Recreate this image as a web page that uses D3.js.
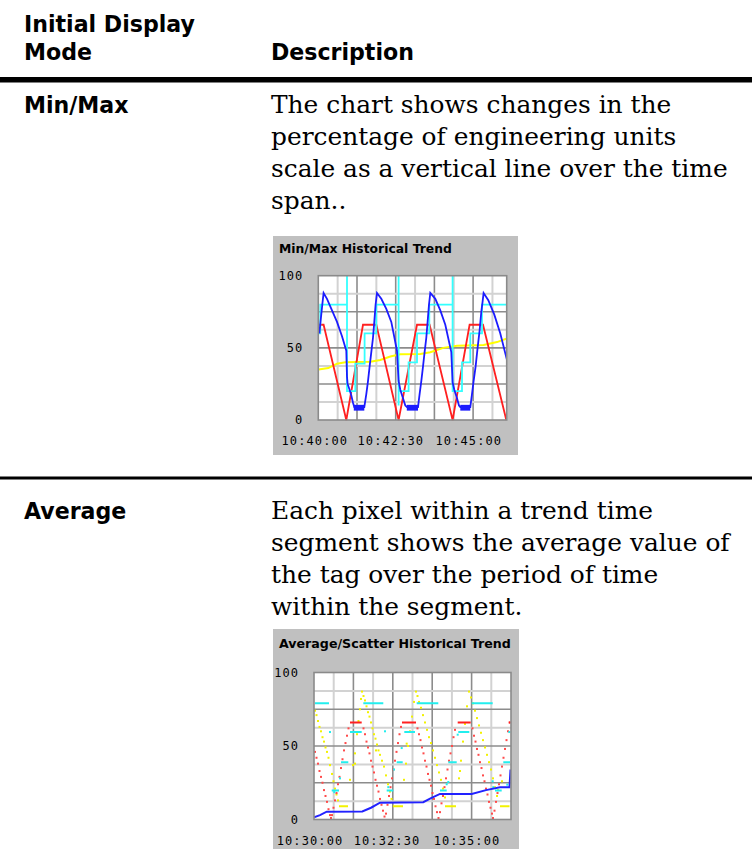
<!DOCTYPE html>
<html><head><meta charset="utf-8">
<script src="https://cdn.jsdelivr.net/npm/d3@7/dist/d3.min.js"></script>
<style>body{margin:0;background:#fff}svg{display:block}</style>
</head><body>
<svg id="page" width="752" height="867"></svg>
<script>
// ---------------- DATA ----------------
const headerLeft = ["Initial Display", "Mode"];
const headerRight = "Description";
const rowLabels = ["Min/Max", "Average"];
const rowText1 = ["The chart shows changes in the", "percentage of engineering units", "scale as a vertical line over the time", "span.."];
const rowText2 = ["Each pixel within a trend time", "segment shows the average value of", "the tag over the period of time", "within the segment."];

const chartTitles = ["Min/Max Historical Trend", "Average/Scatter Historical Trend"];
const yTickValues = [0, 50, 100];
const yTickLabels = ["0", "50", "100"];
// time labels (x = sample index in the trend)
const timeTicks1 = [-4, 72, 150];
const timeLabels1 = ["10:40:00", "10:42:30", "10:45:00"];
const timeTicks2 = [-4.5, 72.5, 152.5];
const timeLabels2 = ["10:30:00", "10:32:30", "10:35:00"];

// ---- Min/Max chart: [sample, value]
const mmBlue = [[1,60],[2.5,70],[4,80],[5.3,88],[8.7,84],[13.7,76],[18.7,68],[23.7,58],[28,48],[28.7,30],[29.3,25],[31.3,21],[33,17],[34.7,12],[36,9],[46,9],[48,18],[49.7,27],[51.3,37],[53,47],[54.7,57],[56,68],[57.3,80],[58.7,88],[63,84],[68,77],[73,68],[78.7,48],[80.3,27],[82,21],[84.7,15],[87,10],[88.7,9],[99.7,9],[101.3,18],[103,27],[104.7,37],[106.3,47],[108,57],[109.3,68],[110.7,80],[112,88],[117,84],[122,76],[127,66],[133,47],[134.3,26],[136,21],[138.7,15],[140.7,10],[142,9],[152,9],[153.7,18],[155.3,27],[157.3,37],[159.3,50],[161.3,62],[163,75],[164.3,82],[165.3,88],[170,83],[176,73],[182,60],[188.5,42]];
// [start, end, low, high] min/max bands of the blue tag
const mmBlueBands = [[35.5,46,6.5,10.5],[88.5,99.7,6.5,10.5],[142,152,6.5,10.5]];
const mmRed = [[0.3,66],[5.3,66],[28,0],[44.7,66],[58,66],[80.3,0],[98.7,66],[111.3,66],[134.3,0],[151.3,66],[164.7,66],[188,0]];
const mmCyan = [[0.3,60],[2,60],[2,80],[28.7,80],[28.7,100],[28.7,20],[37,20],[37,39],[46.3,39],[46.3,60],[58,60],[58,80],[80.3,80],[80.3,100],[80.3,10],[80.3,20],[90.3,20],[90.3,40],[98.7,40],[98.7,60],[111,60],[111,80],[134.3,80],[134.3,100],[134.3,20],[143.7,20],[143.7,40],[152,40],[152,60],[163.7,60],[163.7,80],[188.7,80]];
const mmYellow = [[0.3,35],[10,36],[18.7,39],[27,40],[52,40.4],[62,41.6],[72,44],[82,45.5],[102,45.7],[112,47],[125,50],[138.7,51.5],[165.3,52],[178.7,54],[188.7,56.6]];

// ---- Average/Scatter chart
const avBlue = [[0,1.5],[6,3],[12.7,5.3],[48.3,5.5],[57,8],[66,11.4],[109.3,11.8],[117,14.5],[126,17.4],[157.7,17.4],[172,20],[186,22],[195.5,22],[196.5,34]];
// [start, end, value]
const avCyanDashes = [[1,15,79],[49.3,69.3,79],[102.7,124.3,79],[157.7,178.7,79],[36,47.7,59.5],[90.3,101,59.5],[144.3,155.3,59.5],[27,34.3,39],[82.7,88.7,39],[134.3,142.7,39],[189.3,196,39],[17.7,25,19.8],[72.7,79.3,19.8],[126,132.7,19.8],[181,187.7,19.8]];
const avCyanDots = [[16,59.5],[26,28],[20.3,18.6],[71,60],[74.3,22],[80,34],[87.7,48.6],[143.7,57.7],[134.3,25.5],[132.7,24],[179.3,22],[178.7,26],[193.3,23.7],[195.3,59.5]];
const avRedDashes = [[36,47.7,66],[88,102,66],[143.7,156.7,66],[195,196.5,66]];
const avRedDots = [[1,46],[2.5,42],[4,38],[5.5,33],[7,29],[8.5,25],[10,20],[11.5,16],[13,12],[14.5,7],[16,3],[17,1],
 [18,3],[19.5,8],[21,13],[22.5,18],[24,24],[25.5,29],[27,35],[28.5,41],[30,47],[31.5,52],[33,57],[34.5,62],
 [49.5,62],[51,58],[52.5,53],[54,49],[55.5,45],[57,40],[58.5,36],[60,32],[61.5,27],[63,23],[64.5,19],[66,14],[67.5,10],[69,6],[70.5,2],
 [72,4],[73.5,10],[75,16],[76.5,22],[78,28],[79.5,34],[81,40],[82.5,46],[84,52],[85.5,58],[87,63],
 [103.5,62],[105,58],[106.5,54],[108,49],[109.5,45],[111,40],[112.5,36],[114,31],[115.5,27],[117,23],[118.5,18],[120,14],[121.5,9],[123,5],[124.5,1],
 [126,5],[127.5,11],[129,16],[130.5,22],[132,28],[133.5,34],[135,40],[136.5,45],[138,50],[139.5,56],[141,61],
 [158.5,62],[160,57],[161.5,53],[163,48],[164.5,44],[166,39],[167.5,35],[169,30],[170.5,26],[172,21],[173.5,17],[175,12],[176.5,8],[178,4],[179,1],
 [180.5,6],[182,12],[183.5,18],[185,24],[186.5,30],[188,36],[189.5,42],[191,48],[192.5,54],[194,60],[195.5,66]];
const avYellowDots = [[1,74],[2.5,71],[4,67],[5.5,63],[7,60],[8.5,56],[10,53],[11.5,49],[13,46],[14.5,42],[16,37],[18,31],[19.5,26],[21,21],[22.5,17],[24,13],
 [36,27],[39,37],[41,45],[43,58],[44.5,67],[46,75],[47,82],[48,87],
 [49.5,84],[51,81],[52.5,77],[54,73],[55.5,70],[57,66],[58.5,62],[60,58],[61.5,55],[63,51],[64.5,47],[66,44],[68,40],[70,36],[72,30],[74,24],[76,19],[77.5,14],
 [90,27],[92,38],[94,50],[96,60],[98,70],[100,80],[102,87],
 [103.5,84],[105,80],[107,76],[109,71],[111,66],[113,61],[115,56],[117,52],[119,47],[121,42],[123,37],[125,32],[127,27],[129,21],[131,15],
 [145,28],[147,40],[149,53],[151,65],[153,77],[155,87],
 [157,83],[159,79],[161,74],[163,69],[165,64],[167,59],[169,54],[171,49],[173,44],[175,39],[177,34],[179,28],[181,22],[183,16],
 [92.7,51.6],[146,33],[184,20],[188,26],[62,47],[41,38],[16,37]];
const avYellowDashes = [[25,34,9],[79,89,9],[131,142,9],[186,195.5,9]];

// ---------------- DRAWING ----------------
const svg = d3.select("#page");
svg.append("rect").attr("width", 752).attr("height", 867).attr("fill", "#fff");

const headFont = "'DejaVu Sans', Verdana, sans-serif";
const bodyFont = "'DejaVu Serif', serif";

// scale a text's font-size so that a reference string gets a target width
function fitSize(family, weight, base, sample, target) {
  const t = svg.append("text").attr("font-family", family).attr("font-weight", weight).attr("font-size", base).text(sample);
  const w = t.node().getComputedTextLength();
  t.remove();
  return base * target / w;
}
const headSize = fitSize(headFont, 700, 20, "Initial Display", 171);
const bodySize = fitSize(bodyFont, 400, 20, "scale as a vertical line over the time", 457);

const head = svg.append("g").attr("font-family", headFont).attr("font-weight", 700).attr("font-size", headSize).attr("fill", "#000");
head.selectAll("text.hl").data(headerLeft).join("text").attr("class","hl")
  .attr("x", 24).attr("y", (d, i) => 31.7 + i * 28.3).text(d => d);
head.append("text").attr("x", 271).attr("y", 60).text(headerRight);

svg.append("rect").attr("x", 0).attr("y", 77).attr("width", 752).attr("height", 5.5).attr("fill", "#000");
svg.append("rect").attr("x", 0).attr("y", 476.5).attr("width", 752).attr("height", 3).attr("fill", "#000");

const rowTop = [113.3, 519];
rowLabels.forEach((lab, i) => {
  svg.append("text").attr("x", 24).attr("y", rowTop[i]).attr("font-family", headFont)
    .attr("font-weight", 700).attr("font-size", headSize).text(lab);
});
[rowText1, rowText2].forEach((lines, i) => {
  svg.append("g").attr("font-family", bodyFont).attr("font-size", bodySize).attr("fill", "#000")
    .selectAll("text").data(lines).join("text")
    .attr("x", 271).attr("y", (d, j) => rowTop[i] + j * 32).text(d => d);
});

function drawChart(cfg) {
  const g = svg.append("g");
  g.append("rect").attr("x", cfg.panel.x).attr("y", cfg.panel.y).attr("width", cfg.panel.w).attr("height", cfg.panel.h).attr("fill", "#c0c0c0");
  const tSize = fitSize("'DejaVu Sans', sans-serif", 700, 11, cfg.title, cfg.titleW);
  g.append("text").attr("x", cfg.panel.x + 6).attr("y", cfg.titleY).attr("font-family", "'DejaVu Sans', sans-serif")
    .attr("font-weight", 700).attr("font-size", tSize).attr("fill", "#000").text(cfg.title);
  const x = d3.scaleLinear().domain(cfg.xDomain).range([cfg.plot.x, cfg.plot.x + cfg.plot.w]);
  const y = d3.scaleLinear().domain([0, 100]).range([cfg.plot.y + cfg.plot.h, cfg.plot.y]);
  g.append("rect").attr("x", cfg.plot.x).attr("y", cfg.plot.y).attr("width", cfg.plot.w).attr("height", cfg.plot.h).attr("fill", "#fff");
  // grid
  const vg = d3.range(1, 10).map(k => k * cfg.gridStep).filter(v => v < cfg.xDomain[1]);
  const grid = g.append("g");
  grid.selectAll("line.v").data(vg).join("line").attr("class", "v")
    .attr("x1", d => x(d)).attr("x2", d => x(d)).attr("y1", cfg.plot.y).attr("y2", cfg.plot.y + cfg.plot.h)
    .attr("stroke", (d, i) => i % 2 === 0 ? "#d2d2d2" : "#8c8c8c").attr("stroke-width", (d, i) => i % 2 === 0 ? 2 : 1.6);
  const hg = d3.range(1, 8).map(k => k * 12.5);
  grid.selectAll("line.h").data(hg).join("line").attr("class", "h")
    .attr("y1", d => y(d)).attr("y2", d => y(d)).attr("x1", cfg.plot.x).attr("x2", cfg.plot.x + cfg.plot.w)
    .attr("stroke", (d, i) => i % 2 === 0 ? "#d2d2d2" : "#8c8c8c").attr("stroke-width", (d, i) => i % 2 === 0 ? 2 : 1.6);
  const clipId = "clip" + cfg.id;
  g.append("clipPath").attr("id", clipId).append("rect").attr("x", cfg.plot.x).attr("y", cfg.plot.y - 1).attr("width", cfg.plot.w).attr("height", cfg.plot.h + 2);
  const data = g.append("g").attr("clip-path", `url(#${clipId})`);
  cfg.drawData(data, x, y);
  g.append("rect").attr("x", cfg.plot.x).attr("y", cfg.plot.y).attr("width", cfg.plot.w).attr("height", cfg.plot.h)
    .attr("fill", "none").attr("stroke", "#8a8a8a").attr("stroke-width", 1.6);
  // axes
  const mono = "'DejaVu Sans Mono', monospace";
  const ya = g.append("g").attr("transform", `translate(${cfg.plot.x},0)`)
    .call(d3.axisLeft(y).tickValues(yTickValues).tickFormat((d, i) => yTickLabels[i]).tickSize(0).tickPadding(cfg.yPad));
  ya.select(".domain").remove();
  ya.selectAll("text").attr("font-family", mono).attr("font-size", 12).attr("letter-spacing", 1).attr("fill", "#000");
  const xa = g.append("g").attr("transform", `translate(0,${cfg.plot.y + cfg.plot.h})`)
    .call(d3.axisBottom(x).tickValues(cfg.timeTicks).tickFormat((d, i) => cfg.timeLabels[i]).tickSize(0).tickPadding(cfg.xPad));
  xa.select(".domain").remove();
  xa.selectAll("text").attr("font-family", mono).attr("font-size", 12).attr("letter-spacing", 1.1).attr("fill", "#000");
}

drawChart({
  id: 1, title: chartTitles[0], titleY: 253, titleW: 173,
  panel: {x: 273, y: 236, w: 245, h: 219},
  plot: {x: 318.3, y: 275.7, w: 188.4, h: 144.3},
  xDomain: [0, 188.4], gridStep: 19.35, yPad: 15, xPad: 16,
  timeTicks: timeTicks1, timeLabels: timeLabels1,
  drawData: (g, x, y) => {
    const line = d3.line().x(d => x(d[0])).y(d => y(d[1]));
    g.append("path").datum(mmYellow).attr("d", line).attr("fill", "none").attr("stroke", "#ffff00").attr("stroke-width", 2);
    g.append("path").datum(mmRed).attr("d", line).attr("fill", "none").attr("stroke", "#ff2020").attr("stroke-width", 1.8);
    g.append("path").datum(mmCyan).attr("d", line).attr("fill", "none").attr("stroke", "#33ffff").attr("stroke-width", 1.8);
    g.append("path").datum(mmBlue).attr("d", line).attr("fill", "none").attr("stroke", "#1c1cff").attr("stroke-width", 1.8);
    g.selectAll("rect.band").data(mmBlueBands).join("rect").attr("class", "band")
      .attr("x", d => x(d[0])).attr("width", d => x(d[1]) - x(d[0]))
      .attr("y", d => y(d[3])).attr("height", d => y(d[2]) - y(d[3])).attr("fill", "#1c1cff");
  }
});

drawChart({
  id: 2, title: chartTitles[1], titleY: 648, titleW: 232,
  panel: {x: 273, y: 629, w: 246, h: 220},
  plot: {x: 314, y: 672.5, w: 197, h: 147},
  xDomain: [0, 197], gridStep: 19.7, yPad: 15, xPad: 17,
  timeTicks: timeTicks2, timeLabels: timeLabels2,
  drawData: (g, x, y) => {
    g.selectAll("rect.yd").data(avYellowDots).join("rect").attr("class", "yd")
      .attr("x", d => x(d[0]) - 1).attr("y", d => y(d[1]) - 1).attr("width", 2).attr("height", 2).attr("fill", "#f2f200");
    g.selectAll("line.ydash").data(avYellowDashes).join("line").attr("class", "ydash")
      .attr("x1", d => x(d[0])).attr("x2", d => x(d[1])).attr("y1", d => y(d[2])).attr("y2", d => y(d[2]))
      .attr("stroke", "#f2f200").attr("stroke-width", 2);
    g.selectAll("rect.rd").data(avRedDots).join("rect").attr("class", "rd")
      .attr("x", d => x(d[0]) - 1).attr("y", d => y(d[1]) - 1).attr("width", 2).attr("height", 2).attr("fill", "#ff4a4a");
    g.selectAll("line.rdash").data(avRedDashes).join("line").attr("class", "rdash")
      .attr("x1", d => x(d[0])).attr("x2", d => x(d[1])).attr("y1", d => y(d[2])).attr("y2", d => y(d[2]))
      .attr("stroke", "#ff2020").attr("stroke-width", 2);
    g.selectAll("line.cdash").data(avCyanDashes).join("line").attr("class", "cdash")
      .attr("x1", d => x(d[0])).attr("x2", d => x(d[1])).attr("y1", d => y(d[2])).attr("y2", d => y(d[2]))
      .attr("stroke", "#22eeee").attr("stroke-width", 2);
    g.selectAll("rect.cd").data(avCyanDots).join("rect").attr("class", "cd")
      .attr("x", d => x(d[0]) - 1).attr("y", d => y(d[1]) - 1).attr("width", 2).attr("height", 2).attr("fill", "#22eeee");
    const line = d3.line().x(d => x(d[0])).y(d => y(d[1]));
    g.append("path").datum(avBlue).attr("d", line).attr("fill", "none").attr("stroke", "#2222ff").attr("stroke-width", 2);
  }
});
</script>
</body></html>
